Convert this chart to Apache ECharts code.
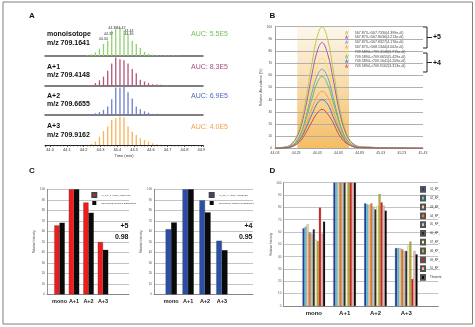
<!DOCTYPE html>
<html><head><meta charset="utf-8">
<script src="https://cdn.jsdelivr.net/npm/echarts@6/dist/echarts.min.js"></script>
<style>html,body{margin:0;padding:0;background:#fff}#c{width:475px;height:327px}</style>
</head><body><div id="c"></div>
<script>
// ---------- Panel A data ----------
const aTimes = [44.197,44.221,44.246,44.270,44.294,44.318,44.343,44.367,44.391,44.416,44.440,44.464,44.489,44.513,44.537,44.562,44.586,44.610,44.635,44.659,44.683,44.708,44.732,44.756,44.781];
const aMono  = [0,0.03,0.06,0.13,0.26,0.42,0.54,0.90,0.97,1.00,0.90,0.76,0.54,0.42,0.28,0.15,0.08,0.05,0.03,0.02,0.03,0.02,0.03,0.02,0.01];
const aPlus1 = [0,0.01,0.03,0.10,0.20,0.33,0.54,0.79,1.00,0.94,0.91,0.79,0.60,0.45,0.22,0.16,0.10,0.06,0.05,0.04,0.02,0,0,0,0];
const aPlus2 = [0,0.01,0.03,0.06,0.10,0.18,0.30,0.55,0.97,0.97,1.00,0.80,0.58,0.30,0.20,0.13,0.08,0.04,0.04,0.02,0,0,0,0,0];
const aPlus3 = [0,0.01,0.04,0.12,0.29,0.49,0.65,0.88,0.94,1.00,0.98,0.65,0.47,0.35,0.24,0.18,0.12,0.06,0.03,0.01,0,0,0,0,0];
const aRowNames = ['monoisotope','A+1','A+2','A+3'];
const aRowMz = ['m/z 709.1641','m/z 709.4148','m/z 709.6655','m/z 709.9162'];
const aAUC = ['AUC: 5.5E5','AUC: 8.3E5','AUC: 6.9E5','AUC: 4.0E5'];
const aLabelledIdx = [6,7,8,9,10,11];

// ---------- Panel B data ----------
const bTimes = [44.03,44.13,44.18,44.23,44.28,44.33,44.38,44.43,44.475,44.53,44.58,44.63,44.68,44.73,44.78,44.83,44.93,45.03,45.43];
const bNames = ['567.873->567.7330(4.399e+6)','567.873->567.8036(4.213e+6)','567.873->567.8327(4.176e+6)','567.873->568.1344(4.002e+6)',
                '709.5894->709.4148(6.915e+6)','709.5894->709.6655(5.429e+6)','709.5894->709.1641(4.209e+6)','709.5894->709.9162(3.313e+6)'];
const bS1 = [0,1,3,9,22,44,70,92,100,89,65,39,19,8,3,1.5,1,0.5,0];
const bS2 = [0,1,3,8,19,38,61,80,87,77,57,34,17,7,3,1.3,0.8,0.4,0];
const bS3 = [0,1,2,6,14,29,46,60,65,58,42,25,12,5,2,1,0.6,0.3,0];
const bS4 = [0,0.5,1.4,4,10,21,33,43,47,42,31,18,9,4,1.5,1,0.5,0.2,0];
const bS5 = [0,1,2,7,16,33,52,68,74,66,48,29,14,6,2,1,0.7,0.3,0];
const bS6 = [0,1,2,5,13,26,41,54,59,52,38,23,11,5,2,1,0.6,0.3,0];
const bS7 = [0,0.5,1.2,4,9,18,28,37,40,36,26,16,8,3,1.2,0.7,0.4,0.2,0];
const bS8 = [0,0.3,1,3,7,14,22,29,32,28,21,12,6,3,1,0.6,0.3,0.1,0];
const bShade = [44.24, 44.73];

// ---------- Panel C data ----------
const cCategories = ['mono','A+1','A+2','A+3'];
const c5Name = 'XI_KP_1_0006_Wks1.raw';
const c4Name = 'XI_KP_1_0006_Wks2.raw';
const cTheoName = 'Theoretical Isotopic Distribution';
const c5Sample = [65.6,100,87.4,49.8];
const c5Theo   = [68.1,100,77.6,42.3];
const c4Sample = [62,100,89.5,51];
const c4Theo   = [68.4,100,78,42];
const c5Texts = ['+5','0.98'];
const c4Texts = ['+4','0.95'];

// ---------- Panel D data ----------
const dNames = ['01_KP_','02_KP_','03_KP_','04_KP_','05_KP_','06_KP_','07_KP_','08_KP_','09_KP_','10_KP_','Theoretic'];
const dMono = [63,64.3,66.2,59.5,58.4,62.2,53.5,52.7,79.7,58.4,68.4];
const dA1   = [100,100,100,100,100,100,100,100,100,100,100];
const dA2   = [83.2,82.4,81.9,83.2,80.5,78.4,81,90.8,84,81.4,77.3];
const dA3   = [47,47,46.8,46,44.6,44.6,49,52.2,21.9,44.6,41.9];

// ---------- styles ----------
const FONT = 'Liberation Sans, Arial, sans-serif';
const aColors = ['#92d06f','#b4557a','#6c7dd0','#f8b25a'];
const aTextColors = ['#6fbf5a','#a5508a','#5065c0','#f5a040'];
const aBaselines = [56,86,115,145];
const aLabelOffsets = {6:[-4.5,0.5],7:[-3.3,6],8:[-3,1.4],9:[1,2.2],10:[5,2.7],11:[1,2]};
const bColors = ['#b3cc55','#a957b8','#6e9fd6','#f2a14e','#f3e35a','#6bb86b','#4b78bd','#c24f4f'];
const dColors = ['#1f3f9e','#5cc8e0','#f3d0ad','#e87c1e','#c8c8c8','#2a2a2a','#fbf7c6','#b4b12a','#e31919','#f4b8b8','#050505'];

const grid = [], xAxis = [], yAxis = [], series = [], graphic = [];

// Panel A
const aRows = [aMono, aPlus1, aPlus2, aPlus3];
aRows.forEach((vals, i) => {
  grid.push({left:45, top:aBaselines[i]-29, width:158, height:29});
  const last = i === 3;
  xAxis.push({type:'value', gridIndex:i, min:43.97, max:44.91, splitNumber:10,
    axisLine:{show:true, onZero:false, lineStyle:{color: last ? '#222' : '#555', width: last ? 1 : 1.5}},
    axisTick:{show:last, length:2, lineStyle:{color:'#222', width:0.7}},
    minorTick:{show:last, splitNumber:5, length:1.5, lineStyle:{color:'#222', width:0.5}},
    axisLabel:{show:last, fontSize:4, color:'#333', margin:2.5, fontFamily:FONT, showMinLabel:false, showMaxLabel:false, hideOverlap:false, formatter:v=>v.toFixed(1)},
    splitLine:{show:false},
    name: last ? 'Time (min)' : '', nameLocation:'middle', nameGap:9, nameTextStyle:{fontSize:4, color:'#333', fontFamily:FONT}});
  yAxis.push({type:'value', gridIndex:i, min:0, max:1.02, show:false});
  series.push({type:'bar', xAxisIndex:i, yAxisIndex:i, barWidth:1.3, silent:true,
    itemStyle:{color:aColors[i]},
    data: aTimes.map((t, j) => {
      const item = {value:[t, vals[j]]};
      if (i === 0 && aLabelledIdx.includes(j)) {
        item.label = {show:true, position:'top', distance:0, offset:aLabelOffsets[j], formatter:t.toFixed(2), fontSize:3.6, color:'#333', fontFamily:FONT};
      }
      return item;
    })});
  graphic.push({type:'text', x:47, y:[34,66.7,96,126][i], style:{text:aRowNames[i], font:'bold 7px '+FONT, fill:'#111', verticalAlign:'middle'}});
  graphic.push({type:'text', x:47, y:[42.7,75,104.3,135][i], style:{text:aRowMz[i], font:'bold 7px '+FONT, fill:'#111', verticalAlign:'middle'}});
  graphic.push({type:'text', x:228, y:[34,66.7,96,126.7][i], style:{text:aAUC[i], font:'7px '+FONT, fill:aTextColors[i], align:'right', verticalAlign:'middle'}});
});

// Panel B (grid 4)
grid.push({left:275, top:26.7, width:148, height:121.6});
xAxis.push({type:'value', gridIndex:4, min:44.03, max:45.43, interval:0.2,
  axisLine:{lineStyle:{color:'#888', width:0.8}}, axisTick:{show:false},
  axisLabel:{fontSize:3.5, color:'#444', margin:2.5, fontFamily:FONT, formatter:v=>v.toFixed(2)}, splitLine:{show:false}});
yAxis.push({type:'value', gridIndex:4, min:0, max:100, interval:10, z:1.5,
  axisLine:{show:true, lineStyle:{color:'#888', width:0.8}}, axisTick:{show:false},
  axisLabel:{fontSize:3.2, color:'#444', margin:3, fontFamily:FONT},
  splitLine:{lineStyle:{color:'#a8a8a8', width:0.9}},
  name:'Relative Abundance (%)', nameLocation:'middle', nameGap:12, nameTextStyle:{fontSize:3.5, color:'#444', fontFamily:FONT}});
series.push({type:'line', xAxisIndex:4, yAxisIndex:4, data:[], z:1, silent:true,
  markArea:{silent:true, z:1, itemStyle:{color:new echarts.graphic.LinearGradient(0,0,0,1,[{offset:0,color:'#fdf7ec'},{offset:1,color:'#f5bd64'}])},
    data:[[{xAxis:bShade[0], yAxis:0},{xAxis:bShade[1], yAxis:100}]]}});
const bSeries = [bS1,bS2,bS3,bS4,bS5,bS6,bS7,bS8];
bSeries.forEach((vals, k) => {
  series.push({type:'line', name:bNames[k], xAxisIndex:4, yAxisIndex:4, smooth:0.4, symbol:'none', silent:true, z:3,
    lineStyle:{color:bColors[k], width:1}, itemStyle:{color:bColors[k]},
    data: bTimes.map((t, j) => [t, vals[j]])});
});

// Panel C1 (grids 5,6)  C2 (grids 7,8)  D (grids 9,10)
function bgAxes(gi, left, top, width, height, gap) {
  grid.push({left, top, width, height});
  xAxis.push({type:'value', gridIndex:gi, min:0, max:1, axisLine:{show:true, lineStyle:{color:'#777', width:0.8}}, axisTick:{show:false}, axisLabel:{show:false}, splitLine:{show:false}});
  yAxis.push({type:'value', gridIndex:gi, min:0, max:100, interval:10,
    axisLine:{show:true, lineStyle:{color:'#777', width:0.8}}, axisTick:{show:false},
    splitLine:{lineStyle:{color:'#b5b5b5', width:0.8}},
    axisLabel:{fontSize:3, color:'#555', margin:2, fontFamily:FONT},
    name:'Relative Intensity', nameLocation:'middle', nameGap:gap, nameTextStyle:{fontSize:3, color:'#555', fontFamily:FONT}});
}
function barAxes(gi, left, top, width, height, fs, margin) {
  grid.push({left, top, width, height});
  xAxis.push({type:'category', gridIndex:gi, data:cCategories, axisLine:{show:false}, axisTick:{show:false},
    axisLabel:{interval:0, fontSize:fs, fontWeight:'bold', color:'#222', margin, fontFamily:FONT}});
  yAxis.push({type:'value', gridIndex:gi, min:0, max:100, show:false});
}
bgAxes(5, 47, 189.3, 82, 105, 8);
barAxes(6, 52.25, 189.3, 58, 105, 5.5, 4.5);
bgAxes(7, 154, 189.3, 99, 105, 7.5);
barAxes(8, 162.75, 189.3, 67.6, 105, 5.5, 4.5);
bgAxes(9, 283.3, 182.7, 155, 123.3, 8);
barAxes(10, 298.4, 182.7, 123.3, 123.3, 6, 4);

series.push({type:'bar', name:c5Name, xAxisIndex:6, yAxisIndex:6, data:c5Sample, barWidth:5.2, barGap:'0%', silent:true, itemStyle:{color:'#ee1c1c', borderColor:'#444', borderWidth:0.3}});
series.push({type:'bar', name:cTheoName, xAxisIndex:6, yAxisIndex:6, data:c5Theo, barWidth:5.2, barGap:'0%', silent:true, itemStyle:{color:'#0a0a0a'}});
series.push({type:'bar', name:c4Name, xAxisIndex:8, yAxisIndex:8, data:c4Sample, barWidth:5.6, barGap:'0%', silent:true, itemStyle:{color:'#2c4fa6', borderColor:'#444', borderWidth:0.3}});
series.push({type:'bar', name:cTheoName, xAxisIndex:8, yAxisIndex:8, data:c4Theo, barWidth:5.6, barGap:'0%', silent:true, itemStyle:{color:'#0a0a0a'}});

const dVals = [dMono, dA1, dA2, dA3];
dNames.forEach((n, k) => {
  series.push({type:'bar', name:n, xAxisIndex:10, yAxisIndex:10, barWidth:2.05, barGap:'0%', silent:true,
    itemStyle:{color:dColors[k], borderColor:'#555', borderWidth:0.2},
    data: dVals.map(arr => arr[k])});
});

// texts & decorations
graphic.push({type:'rect', shape:{x:3, y:2, width:469.5, height:322}, style:{stroke:'#7f7f7f', lineWidth:1, fill:null}, z:10});
[['A',32,16],['B',272.5,15.5],['C',32,170.5],['D',272.5,170.5]].forEach(p => {
  graphic.push({type:'text', x:p[1], y:p[2], style:{text:p[0], font:'bold 8px '+FONT, fill:'#111', align:'center', verticalAlign:'middle'}});
});
graphic.push({type:'text', x:128.5, y:226, style:{text:c5Texts[0], font:'bold 7px '+FONT, fill:'#111', align:'right', verticalAlign:'middle'}});
graphic.push({type:'text', x:128.5, y:237.5, style:{text:c5Texts[1], font:'bold 7px '+FONT, fill:'#111', align:'right', verticalAlign:'middle'}});
graphic.push({type:'text', x:252.5, y:226, style:{text:c4Texts[0], font:'bold 7px '+FONT, fill:'#111', align:'right', verticalAlign:'middle'}});
graphic.push({type:'text', x:252.5, y:237.5, style:{text:c4Texts[1], font:'bold 7px '+FONT, fill:'#111', align:'right', verticalAlign:'middle'}});
graphic.push({type:'polyline', shape:{points:[[423,27],[427,27],[427,48],[423,48]]}, style:{stroke:'#222', lineWidth:1, fill:null}});
graphic.push({type:'line', shape:{x1:427, y1:37.5, x2:432, y2:37.5}, style:{stroke:'#222', lineWidth:1}});
graphic.push({type:'polyline', shape:{points:[[423,53],[427,53],[427,72],[423,72]]}, style:{stroke:'#222', lineWidth:1, fill:null}});
graphic.push({type:'line', shape:{x1:427, y1:62.5, x2:432, y2:62.5}, style:{stroke:'#222', lineWidth:1}});
graphic.push({type:'text', x:433, y:37.5, style:{text:'+5', font:'bold 7px '+FONT, fill:'#111', verticalAlign:'middle'}});
graphic.push({type:'text', x:433, y:63, style:{text:'+4', font:'bold 7px '+FONT, fill:'#111', verticalAlign:'middle'}});

const zig = 'path://M0,10L3,0L5,0L7,7L9,0L10,0L7,10L5,10L3.5,3L1.5,10Z';
const legend = [
  {data:bNames, orient:'vertical', left:345, top:30.6, itemWidth:6, itemHeight:3.6, itemGap:0.8, icon:zig, selectedMode:false, padding:0,
   textStyle:{fontSize:3.6, lineHeight:3.6, color:'#444', fontFamily:FONT}},
  {data:[c5Name, cTheoName], orient:'vertical', left:91.3, top:192, itemWidth:4, itemHeight:4, itemGap:3, icon:'rect', selectedMode:false, padding:0,
   textStyle:{fontSize:2.5, color:'#333', fontFamily:FONT}},
  {data:[c4Name, cTheoName], orient:'vertical', left:208.7, top:192, itemWidth:4, itemHeight:4, itemGap:3, icon:'rect', selectedMode:false, padding:0,
   textStyle:{fontSize:2.5, color:'#333', fontFamily:FONT}},
  {data:dNames, orient:'vertical', left:420, top:186, itemWidth:4, itemHeight:4.8, itemGap:2, icon:'rect', selectedMode:false, padding:0,
   textStyle:{fontSize:2.8, color:'#333', fontFamily:FONT}}
];

const chart = echarts.init(document.getElementById('c'));
chart.setOption({animation:false, backgroundColor:'#fff', textStyle:{fontFamily:FONT}, grid, xAxis, yAxis, series, legend, graphic});
</script></body></html>
